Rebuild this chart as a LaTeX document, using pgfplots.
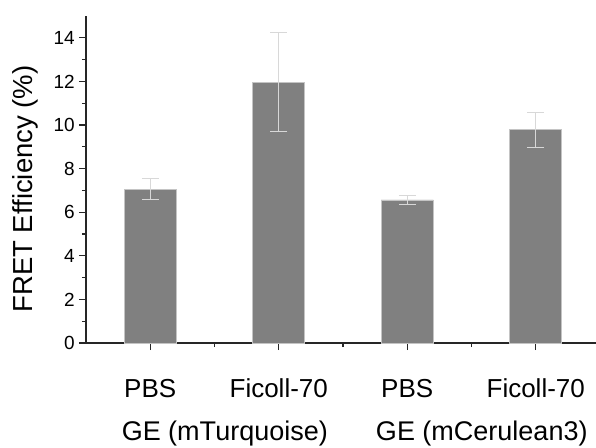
\documentclass[border=0pt]{standalone}
\usepackage{pgfplots}
\pgfplotsset{compat=1.18}
\usepackage{fontspec}
\setmainfont{Liberation Sans}
\definecolor{barfill}{HTML}{808080}
\definecolor{bardraw}{HTML}{C4C4C4}
\definecolor{errc}{HTML}{D8D8D8}
\definecolor{axc}{HTML}{262626}
\newcommand{\tl}[1]{\fontsize{19}{21}\selectfont #1}
\begin{document}
\begin{tikzpicture}
\useasboundingbox (-86pt,-104pt) rectangle (510pt,343pt);
\begin{axis}[
  at={(0,0)}, anchor=south west,
  scale only axis,
  width=514pt, height=327pt,
  xmin=0.5, xmax=4.5,
  ymin=0, ymax=15,
  axis lines=left,
  axis line style={-, axc, line width=1.1pt},
  tick style={axc, line width=1.1pt},
  tick align=outside,
  major tick length=7pt,
  minor tick length=4pt,
  xtick={1,2,3,4},
  xticklabels={PBS,Ficoll-70,PBS,Ficoll-70},
  minor xtick={1.5,2.5,3.5},
  ytick={0,2,4,6,8,10,12,14},
  yticklabels={\tl{0},\tl{2},\tl{4},\tl{6},\tl{8},\tl{10},\tl{12},\tl{14}},
  minor ytick={1,3,5,7,9,11,13},
  yticklabel style={inner sep=0pt, xshift=-4pt},
  xticklabel style={font=\fontsize{26}{28}\selectfont, anchor=base, yshift=-47pt},
  clip=false,
]
\addplot[ybar, bar width=0.405, fill=barfill, draw=bardraw, line width=0.8pt]
  coordinates {(1,7.05) (2,11.96) (3,6.56) (4,9.78)};
\addplot[draw=none, mark=none, forget plot,
  error bars/.cd, y dir=both, y explicit,
  error bar style={errc, line width=1pt},
  error mark options={errc, line width=1pt, mark size=8.5pt, rotate=90}]
  coordinates {(1,7.05) +- (0,0.48) (2,11.96) +- (0,2.28) (3,6.56) +- (0,0.22) (4,9.78) +- (0,0.8)};
\node[rotate=90, anchor=base, font=\fontsize{27.5}{30}\selectfont]
  at ([xshift=-53pt]rel axis cs:0,0.471) {FRET Efficiency (\%)};
\node[anchor=base, font=\fontsize{27}{30}\selectfont]
  at ([yshift=-97pt]axis cs:1.58,0) {GE (mTurquoise)};
\node[anchor=base, font=\fontsize{27}{30}\selectfont]
  at ([yshift=-97pt]axis cs:3.58,0) {GE (mCerulean3)};
\end{axis}
\end{tikzpicture}
\end{document}
